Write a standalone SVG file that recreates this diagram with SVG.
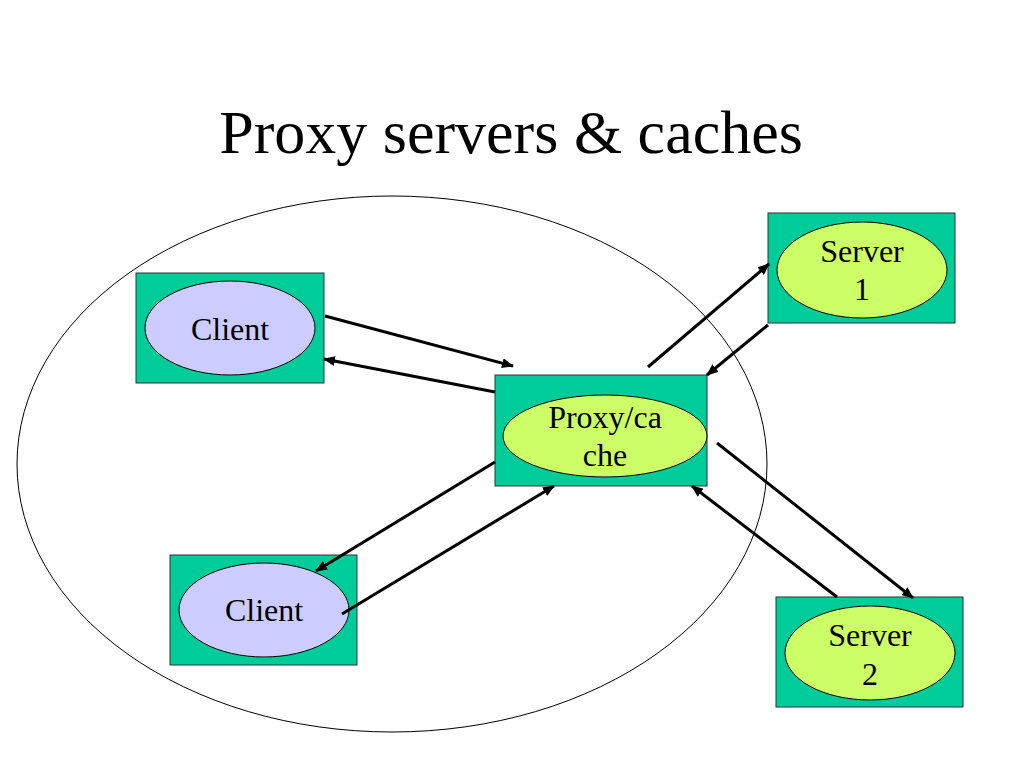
<svg xmlns="http://www.w3.org/2000/svg" width="1024" height="768" viewBox="0 0 1024 768">
<defs>
<style>
.box{fill:#00CC99;stroke:#333333;stroke-width:1}
.cl{fill:#CCCCFF;stroke:#000;stroke-width:1}
.sv{fill:#CCFF66;stroke:#000;stroke-width:1}
.lbl{font-family:"Liberation Serif","Times New Roman",serif;font-size:32px;fill:#000;text-anchor:middle}
.title{font-family:"Liberation Serif","Times New Roman",serif;font-size:62px;fill:#000;text-anchor:middle}
.arr{stroke:#000;stroke-width:3;fill:none;marker-end:url(#ah)}
</style>
<marker id="ah" viewBox="0 0 12 10" refX="11" refY="5" markerWidth="12" markerHeight="10" markerUnits="userSpaceOnUse" orient="auto">
<path d="M0,0 L12,5 L0,10 Z" fill="#000"/>
</marker>
</defs>
<rect width="1024" height="768" fill="#fff"/>
<text class="title" x="511" y="153">Proxy servers &amp; caches</text>
<ellipse id="domain" cx="392" cy="464" rx="375" ry="268" fill="none" stroke="#000" stroke-width="1"/>
<g id="client1">
<rect class="box" x="136" y="273" width="188" height="110"/>
<ellipse class="cl" cx="230" cy="328" rx="85" ry="47"/>
<text class="lbl" x="230" y="340">Client</text>
</g>
<g id="client2">
<rect class="box" x="170" y="555" width="187" height="110"/>
<ellipse class="cl" cx="264" cy="610" rx="85" ry="47"/>
<text class="lbl" x="264" y="621">Client</text>
</g>
<g id="proxy">
<rect class="box" x="495" y="375" width="212" height="111"/>
<ellipse class="sv" cx="605" cy="436" rx="102" ry="41"/>
<text class="lbl" x="605" y="428">Proxy/ca</text>
<text class="lbl" x="605" y="466">che</text>
</g>
<g id="server1">
<rect class="box" x="768" y="213" width="187" height="110"/>
<ellipse class="sv" cx="862" cy="270" rx="85" ry="48"/>
<text class="lbl" x="862" y="262">Server</text>
<text class="lbl" x="862" y="300">1</text>
</g>
<g id="server2">
<rect class="box" x="776" y="597" width="187" height="110"/>
<ellipse class="sv" cx="870" cy="653" rx="85" ry="47"/>
<text class="lbl" x="870" y="646">Server</text>
<text class="lbl" x="870" y="685">2</text>
</g>
<g id="connectors">
<line class="arr" x1="325" y1="316" x2="513" y2="366"/>
<line class="arr" x1="495" y1="392" x2="324" y2="359"/>
<line class="arr" x1="648" y1="367" x2="769" y2="264"/>
<line class="arr" x1="768" y1="325" x2="707" y2="375"/>
<line class="arr" x1="495" y1="462" x2="316" y2="571"/>
<line class="arr" x1="342" y1="614" x2="554" y2="486"/>
<line class="arr" x1="717" y1="443" x2="913" y2="598"/>
<line class="arr" x1="837" y1="597" x2="692" y2="486"/>
</g>
</svg>
